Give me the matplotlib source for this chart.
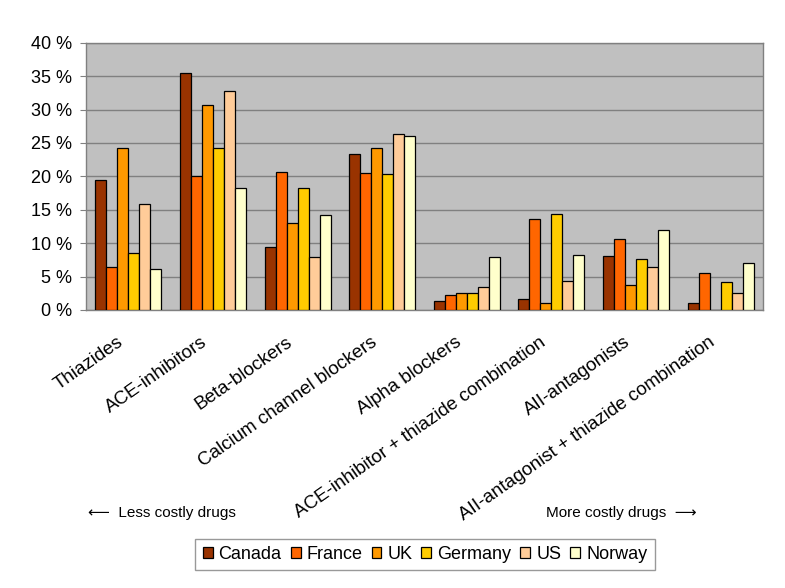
import matplotlib
matplotlib.use("Agg")
import matplotlib.pyplot as plt
import matplotlib.transforms as mtransforms
import numpy as np

plt.rcParams['font.family'] = ['Liberation Sans', 'DejaVu Sans']

categories = ["Thiazides", "ACE-inhibitors", "Beta-blockers", "Calcium channel blockers",
              "Alpha blockers", "ACE-inhibitor + thiazide combination", "AII-antagonists",
              "AII-antagonist + thiazide combination"]
countries = ["Canada", "France", "UK", "Germany", "US", "Norway"]
canada  = [19.5, 35.4, 9.5, 23.3, 1.4, 1.7, 8.1, 1.05]
france  = [6.5, 20.0, 20.7, 20.5, 2.3, 13.6, 10.6, 5.5]
uk      = [24.3, 30.7, 13.0, 24.3, 2.5, 1.0, 3.8, 0.0]
germany = [8.5, 24.2, 18.2, 20.3, 2.5, 14.4, 7.6, 4.2]
us      = [15.9, 32.8, 8.0, 26.4, 3.4, 4.4, 6.5, 2.5]
norway  = [6.1, 18.2, 14.2, 26.1, 8.0, 8.2, 12.0, 7.0]
series = [canada, france, uk, germany, us, norway]
colors = ["#993300", "#FF6600", "#FF9900", "#FFCC00", "#FFCC99", "#FFFFCC"]
yticks = [0, 5, 10, 15, 20, 25, 30, 35, 40]

fig = plt.figure(figsize=(7.85, 5.88), dpi=100)
ax = fig.add_axes([86/785, 1-310/588, (763-86)/785, (310-42.7)/588])
ax.set_facecolor("#C0C0C0")

x = np.arange(len(categories))
w = 0.13
for j, (vals, c, name) in enumerate(zip(series, colors, countries)):
    ax.bar(x + (j - 2.5) * w, vals, width=w, color=c, edgecolor="black",
           linewidth=0.9, label=name, zorder=3)

ax.set_xlim(-0.5, len(categories) - 0.5)
ax.set_ylim(0, 40)
ax.set_yticks(yticks)
ax.set_yticklabels([f"{t} %" for t in yticks], fontsize=13)
ax.yaxis.grid(True, color="#808080", linewidth=1.0, zorder=0)
ax.set_axisbelow(True)
for s in ax.spines.values():
    s.set_color("#808080")
    s.set_linewidth(1.0)
ax.tick_params(axis='y', direction='out', length=4, color="#808080", pad=6)
ax.tick_params(axis='x', length=0, pad=17)
ax.set_xticks(x)
ax.set_xticklabels(categories, rotation=35, ha='right', va='top',
                   rotation_mode='anchor', fontsize=13.5)
offset = mtransforms.ScaledTranslation(-12/100, 0, fig.dpi_scale_trans)
for lbl in ax.get_xticklabels():
    lbl.set_transform(lbl.get_transform() + offset)

fig.text(88/785, 1-513/588, "\u27F5  Less costly drugs", fontsize=11, va='center', ha='left',
         family=['Liberation Sans', 'DejaVu Sans'])
fig.text(697/785, 1-513/588, "More costly drugs  \u27F6", fontsize=11, va='center', ha='right',
         family=['Liberation Sans', 'DejaVu Sans'])

leg = fig.legend(loc='center', bbox_to_anchor=(425/785, 1-554.5/588), ncol=6,
                 fontsize=13, frameon=True, fancybox=False, edgecolor="#808080",
                 handlelength=0.55, handleheight=0.55, handletextpad=0.33,
                 columnspacing=0.5, borderpad=0.4)
leg.get_frame().set_linewidth(1.0)

fig.savefig("out.png", dpi=100)
